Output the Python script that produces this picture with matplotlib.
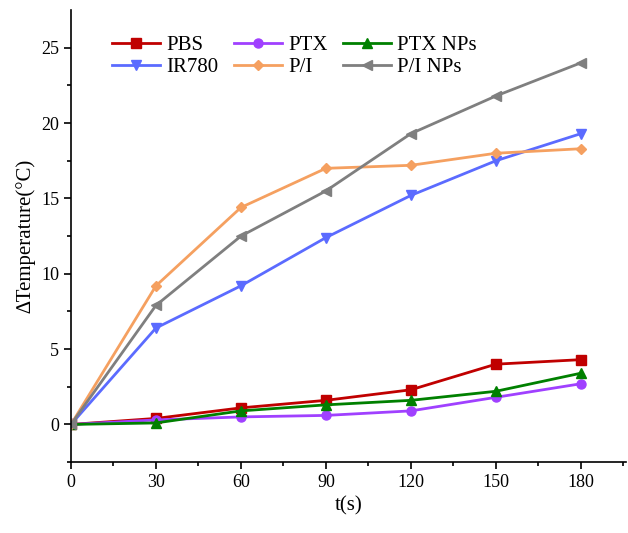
import numpy as np
import matplotlib.pyplot as plt

plt.rcParams['font.family'] = ['Liberation Serif', 'DejaVu Serif']

t = [0, 30, 60, 90, 120, 150, 180]
pbs = [0, 0.4, 1.1, 1.6, 2.3, 4.0, 4.3]
ptx = [0, 0.3, 0.5, 0.6, 0.9, 1.8, 2.7]
ptx_nps = [0, 0.1, 0.9, 1.3, 1.6, 2.2, 3.4]
ir780 = [0, 6.4, 9.2, 12.4, 15.2, 17.5, 19.3]
p_i = [0, 9.2, 14.4, 17.0, 17.2, 18.0, 18.3]
p_i_nps = [0, 7.9, 12.5, 15.5, 19.3, 21.8, 24.0]

series = [
    ("PBS", pbs, "#C00000", "s"),
    ("PTX", ptx, "#A040FF", "o"),
    ("PTX NPs", ptx_nps, "#008000", "^"),
    ("IR780", ir780, "#5B6BFF", "v"),
    ("P/I", p_i, "#F5A060", "D"),
    ("P/I NPs", p_i_nps, "#7F7F7F", "<"),
]

fig = plt.figure(figsize=(6.28, 5.33), dpi=100)
ax = fig.add_axes([0.113, 0.133, 0.884, 0.848])

lines = []
for name, y, c, m in series:
    ms = 5.5 if m == "D" else 6.5
    ln, = ax.plot(t, y, color=c, marker=m, markersize=ms, linewidth=2, label=name)
    lines.append(ln)

ax.set_xlim(0, 196)
ax.set_ylim(-2.5, 27.5)
ax.set_xticks(np.arange(0, 181, 30))
ax.set_xticks(np.arange(15, 196, 30), minor=True)
ax.set_yticks(np.arange(0, 26, 5))
ax.set_yticks(np.arange(-2.5, 27.5, 5), minor=True)
ax.tick_params(which='major', length=5, width=1.2, labelsize=13)
ax.tick_params(which='minor', length=3, width=1.2)
for s in ['top', 'right']:
    ax.spines[s].set_visible(False)
for s in ['left', 'bottom']:
    ax.spines[s].set_linewidth(1.2)

ax.set_xlabel("t(s)", fontsize=15)
ax.set_ylabel("\u2206Temperature(\u00b0C)", fontsize=15, labelpad=4)

# legend fills column-wise; reorder so rows read PBS/PTX/PTX NPs, IR780/P/I/P/I NPs
order = [0, 3, 1, 4, 2, 5]
ax.legend([lines[i] for i in order], [series[i][0] for i in order],
          loc='upper left', ncol=3, frameon=False, fontsize=15,
          bbox_to_anchor=(0.04, 0.985), handlelength=2.3,
          columnspacing=0.75, handletextpad=0.3, labelspacing=0.1)

fig.savefig("out.png", dpi=100)
